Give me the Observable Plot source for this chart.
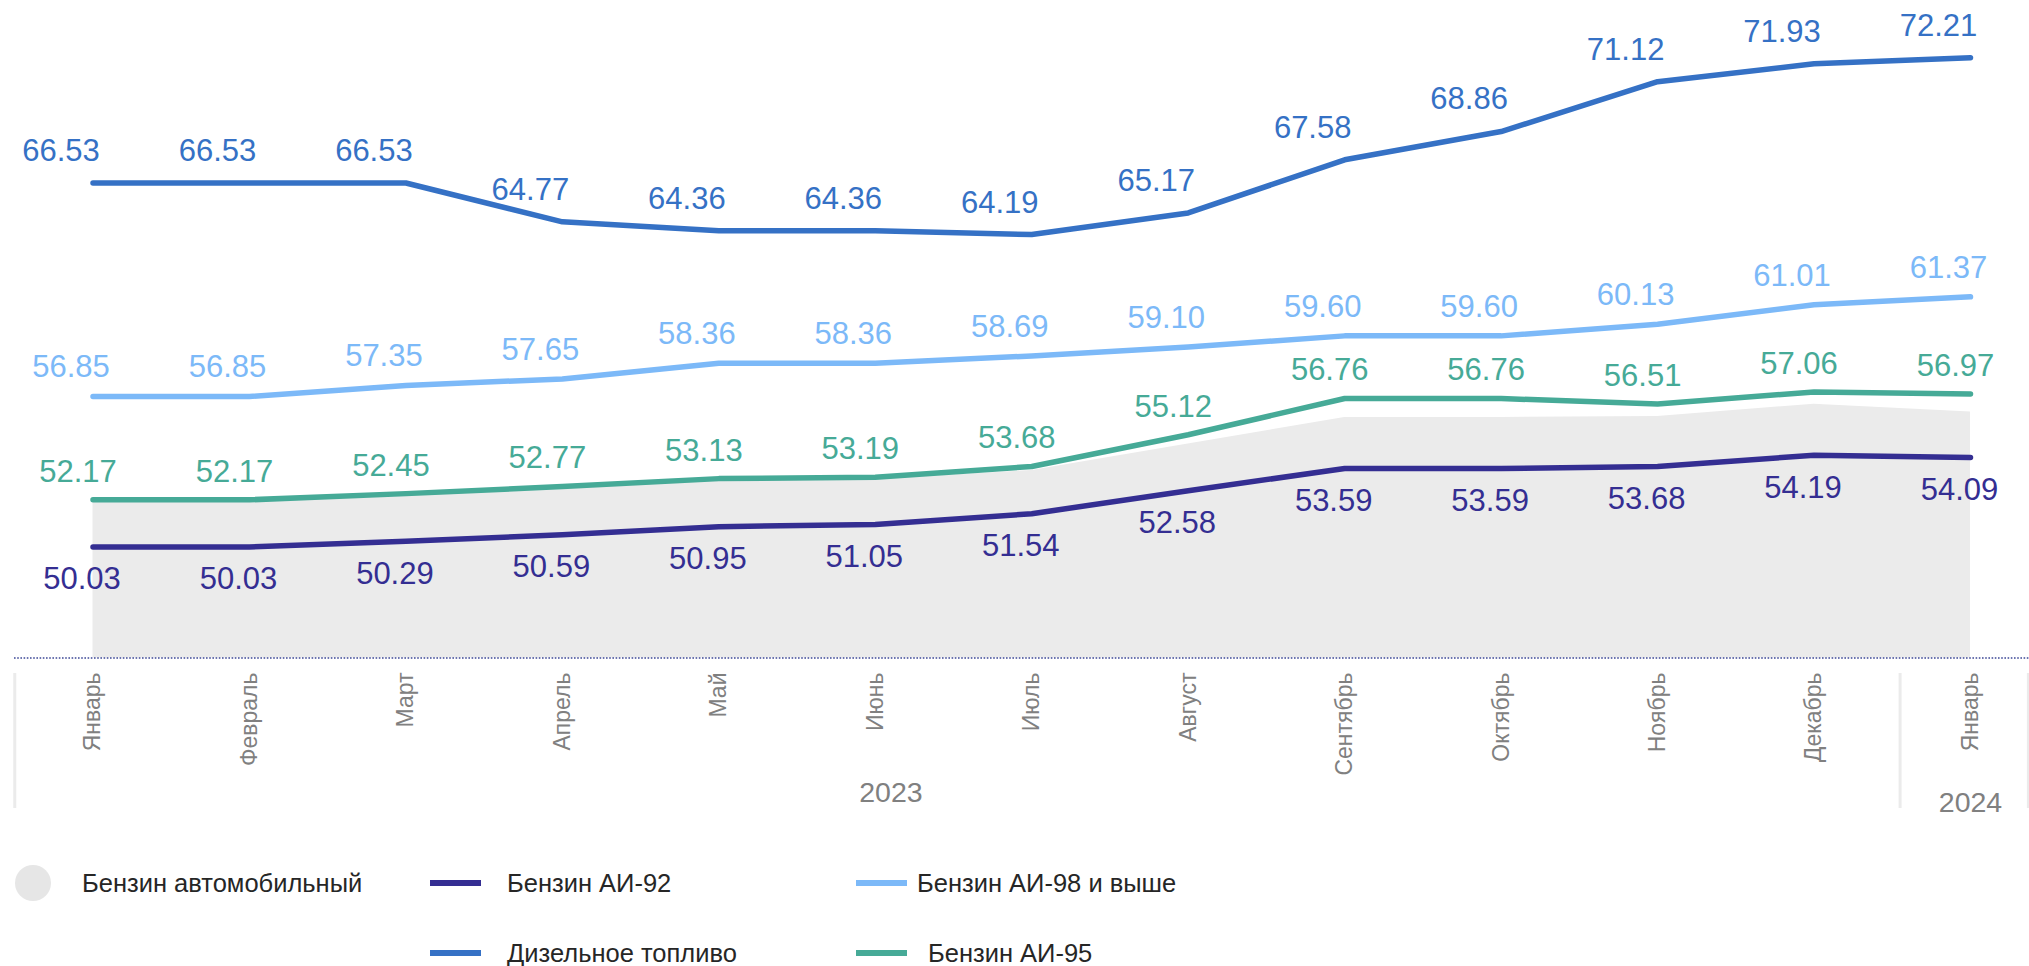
<!DOCTYPE html>
<html>
<head>
<meta charset="utf-8">
<script src="https://cdn.jsdelivr.net/npm/d3@7"></script>
<script src="https://cdn.jsdelivr.net/npm/@observablehq/plot@0.6"></script>
<style>
  html, body { margin: 0; padding: 0; background: #fff; overflow: hidden; }
  body { width: 2029px; height: 966px; font-family: "Liberation Sans", Arial, sans-serif; }
  #legend { position: relative; width: 2029px; height: 136px; color: #262626; font-size: 25.5px; }
  #legend .item { position: absolute; display: flex; align-items: center; height: 40px; white-space: nowrap; }
  #legend .dot { width: 36px; height: 36px; border-radius: 50%; background: #e6e6e6; }
  #legend .sw { width: 51px; height: 6px; }
</style>
</head>
<body>
<div id="chart"></div>
<div id="legend"></div>
<script>
// ---- data ----
const months = ["Январь","Февраль","Март","Апрель","Май","Июнь","Июль","Август","Сентябрь","Октябрь","Ноябрь","Декабрь","Январь"];
const years = ["2023", "2024"];
const gasoline = [52.10, 52.10, 52.40, 52.70, 53.05, 53.10, 53.50, 54.70, 55.90, 55.90, 55.95, 56.50, 56.15]; // Бензин автомобильный (no labels, estimated)
const diesel   = [66.53, 66.53, 66.53, 64.77, 64.36, 64.36, 64.19, 65.17, 67.58, 68.86, 71.12, 71.93, 72.21];
const ai98     = [56.85, 56.85, 57.35, 57.65, 58.36, 58.36, 58.69, 59.10, 59.60, 59.60, 60.13, 61.01, 61.37];
const ai95     = [52.17, 52.17, 52.45, 52.77, 53.13, 53.19, 53.68, 55.12, 56.76, 56.76, 56.51, 57.06, 56.97];
const ai92     = [50.03, 50.03, 50.29, 50.59, 50.95, 51.05, 51.54, 52.58, 53.59, 53.59, 53.68, 54.19, 54.09];

const idx = d3.range(months.length);

const series = [
  {name: "Бензин АИ-92",        values: ai92,   color: "#342e92", dx: -11, dy: 32.5},
  {name: "Бензин АИ-95",        values: ai95,   color: "#46aa97", dx: -15, dy: -28},
  {name: "Бензин АИ-98 и выше", values: ai98,   color: "#7cb9f8", dx: -22, dy: -29},
  {name: "Дизельное топливо",   values: diesel, color: "#3571c5", dx: -32, dy: -32}
];

const W = 2029, H = 830, frameBottom = 657.5;
const font = "'Liberation Sans', Arial, sans-serif";

const marks = [
  Plot.areaY(idx, {x: i => i, y1: 45, y2: i => gasoline[i], fill: "#ebebeb"}),
  Plot.ruleY([45], {stroke: "#3d4896", strokeWidth: 1.6, strokeDasharray: "1.6,1.6"}),
  Plot.ruleX([-0.5, 11.55, 12.37], {stroke: "#ebebeb", strokeWidth: 3, insetTop: frameBottom - 135, dy: 150.5}),
  ...series.map(s => Plot.line(idx, {
    x: i => i, y: i => s.values[i], stroke: s.color, strokeWidth: 5.5,
    strokeLinecap: "round", strokeLinejoin: "round"
  })),
  ...series.map(s => Plot.text(idx, {
    x: i => i, y: i => s.values[i], text: i => s.values[i].toFixed(2),
    fill: s.color, fontSize: 31, fontFamily: font, dx: s.dx, dy: s.dy,
    textAnchor: "middle", lineAnchor: "middle"
  })),
  Plot.text(idx, {
    x: i => i, text: i => months[i], frameAnchor: "bottom", rotate: -90,
    textAnchor: "end", lineAnchor: "middle", dy: 14.5,
    fill: "#808080", fontSize: 23, fontFamily: font
  }),
  Plot.text([years[0]], {x: [5.1], text: d => d, frameAnchor: "bottom", dy: 134.5,
    lineAnchor: "middle", fill: "#808080", fontSize: 28.5, fontFamily: font}),
  Plot.text([years[1]], {x: [12], text: d => d, frameAnchor: "bottom", dy: 144.5,
    lineAnchor: "middle", fill: "#808080", fontSize: 28.5, fontFamily: font})
];

const chart = Plot.plot({
  width: W, height: H,
  marginTop: 0, marginBottom: H - frameBottom, marginLeft: 14, marginRight: 0,
  x: {type: "linear", domain: [0, 12], range: [92.5, 1970], axis: null},
  y: {type: "linear", domain: [45, 74.8], axis: null},
  style: {fontFamily: font, background: "#fff", overflow: "visible"},
  marks
});
document.getElementById("chart").appendChild(chart);

// ---- legend ----
const legendItems = [
  {label: "Бензин автомобильный", kind: "dot", color: "#e6e6e6", left: 15, text: 82, row: 0},
  {label: series[0].name, kind: "line", color: series[0].color, left: 430, text: 507, row: 0},
  {label: series[2].name, kind: "line", color: series[2].color, left: 856, text: 917, row: 0},
  {label: series[3].name, kind: "line", color: series[3].color, left: 430, text: 507, row: 1},
  {label: series[1].name, kind: "line", color: series[1].color, left: 856, text: 928, row: 1}
];
const rowsY = [53, 123];
const legend = document.getElementById("legend");
legendItems.forEach(it => {
  const sw = document.createElement("div");
  sw.className = "item";
  sw.style.left = it.left + "px";
  sw.style.top = (rowsY[it.row] - 20) + "px";
  const mark = document.createElement("div");
  mark.className = it.kind === "dot" ? "dot" : "sw";
  mark.style.background = it.color;
  sw.appendChild(mark);
  legend.appendChild(sw);
  const tx = document.createElement("div");
  tx.className = "item";
  tx.style.left = it.text + "px";
  tx.style.top = (rowsY[it.row] - 20) + "px";
  tx.textContent = it.label;
  legend.appendChild(tx);
});
</script>
</body>
</html>
